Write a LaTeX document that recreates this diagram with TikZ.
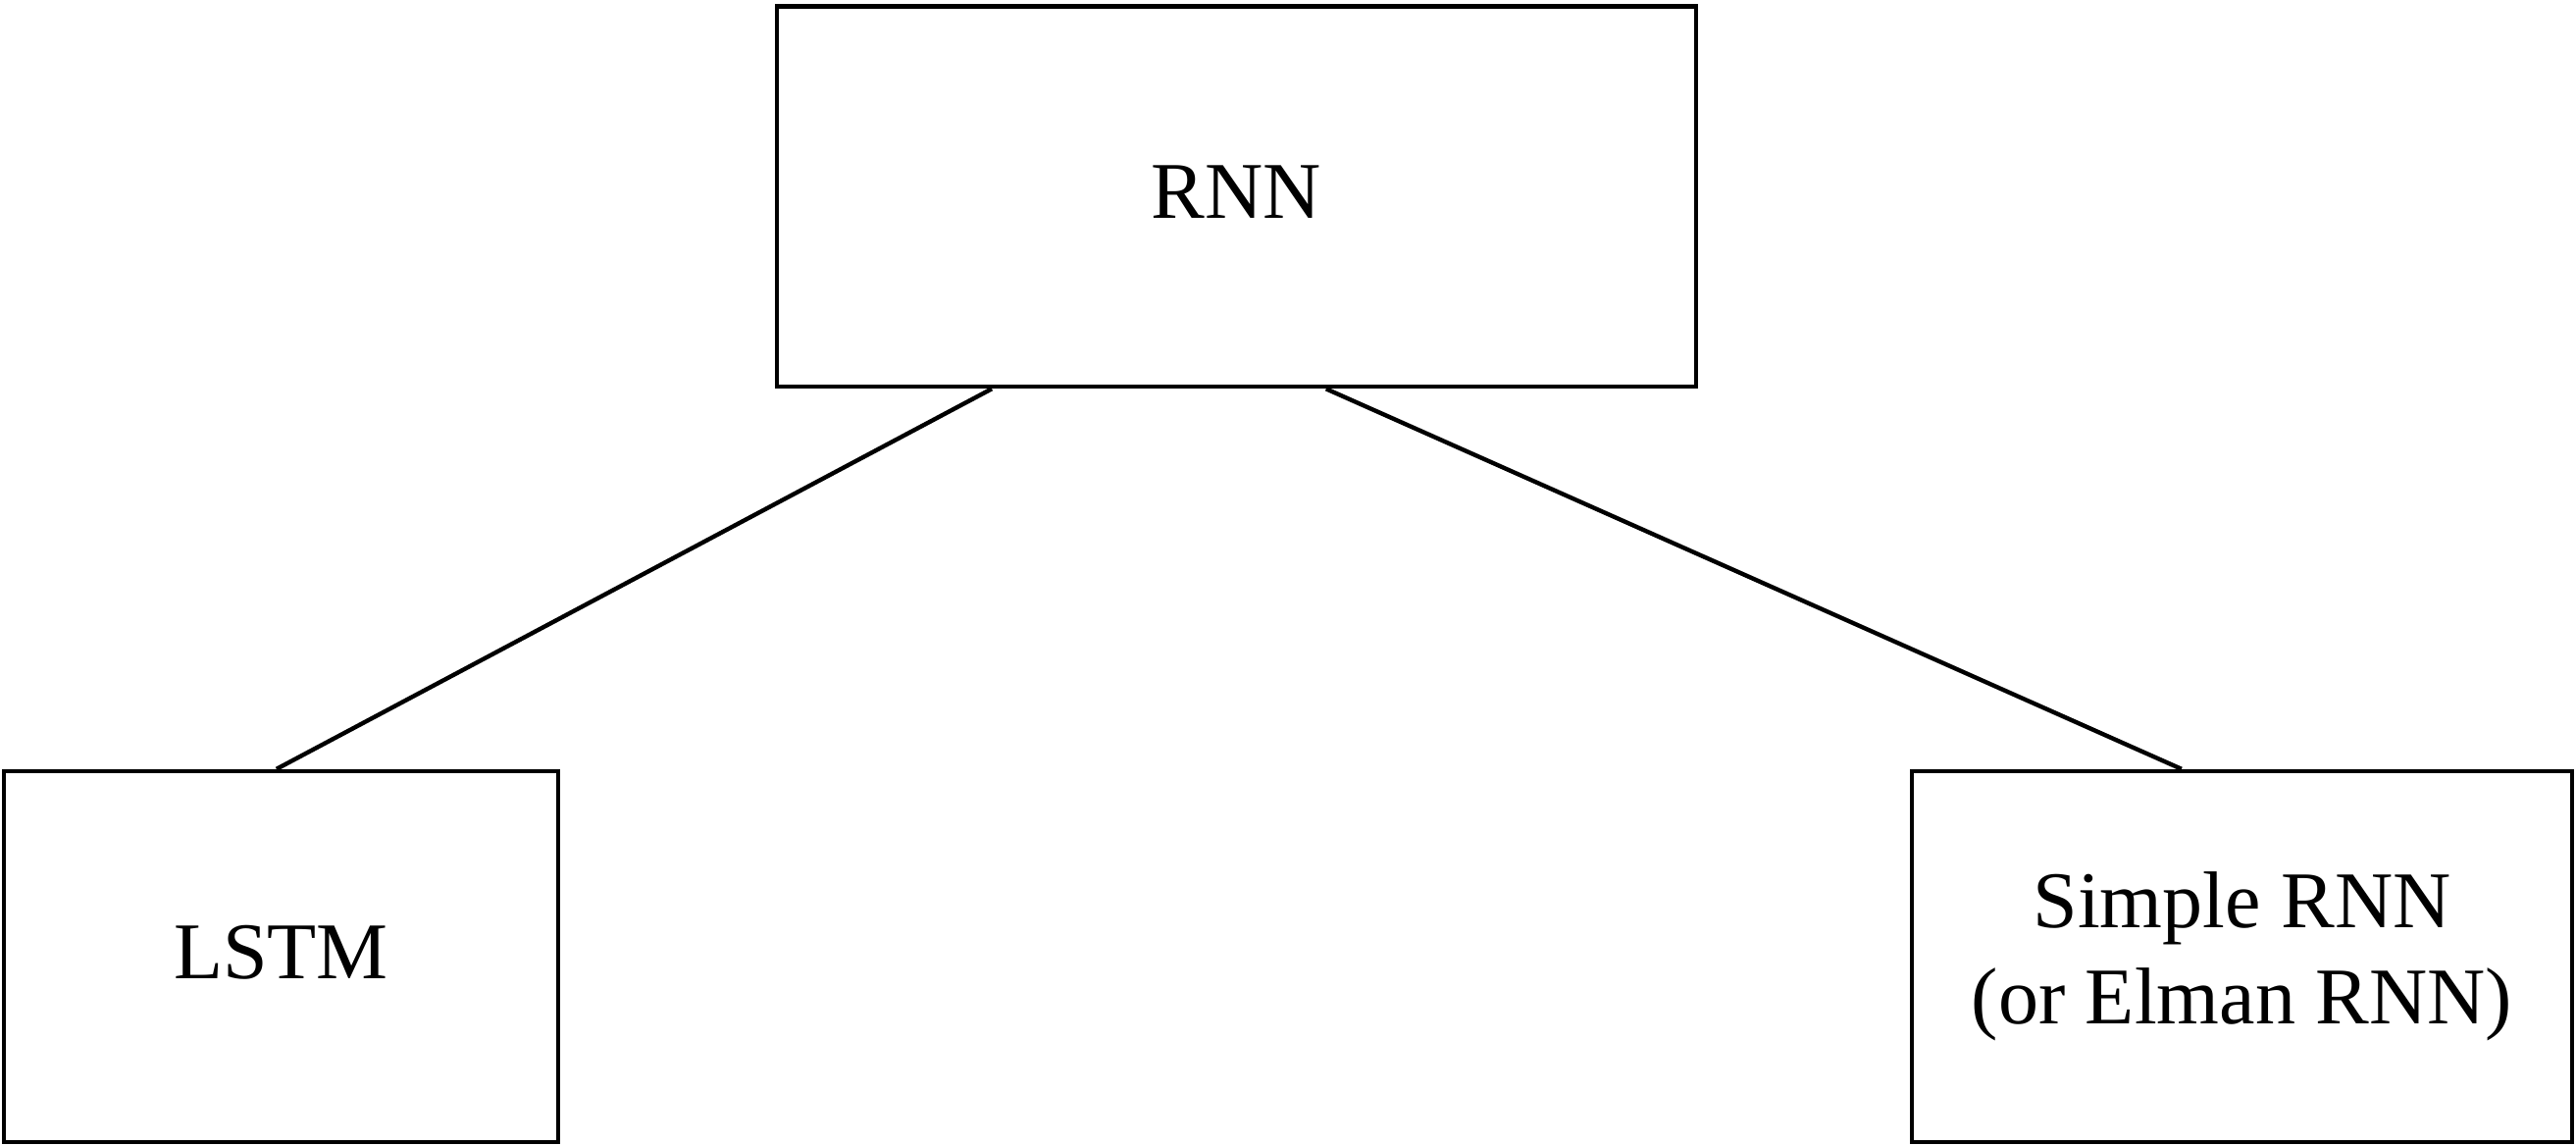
\documentclass[tikz,border=0pt]{standalone}
\usepackage{fontspec}
\setmainfont{Liberation Serif}
\usetikzlibrary{calc}
\begin{document}
\begin{tikzpicture}[x=0.25pt,y=-0.25pt,
  box/.style={draw=black,line width=1.1pt,inner sep=0pt,align=center,
    font=\fontsize{20.5}{24.6}\selectfont},
  link/.style={draw=black,line width=1.1pt}]
\useasboundingbox (0,0) rectangle (2626,1168);
\node[box,text depth=2.5pt,minimum width=234.25pt,minimum height=96.9pt] (rnn) at (1260.5,200.3) {RNN};
\node[box,text depth=2.5pt,minimum width=141.25pt,minimum height=94.5pt] (lstm) at (286.4,975) {LSTM};
\node[box,minimum width=168.25pt,minimum height=94.5pt] (srnn) at (2285.5,975) {Simple RNN\\(or Elman RNN)};
\draw[link] ($(rnn.south west)!0.235!(rnn.south east)$) -- ($(lstm.north west)!0.492!(lstm.north east)$);
\draw[link] ($(rnn.south west)!0.597!(rnn.south east)$) -- ($(srnn.north west)!0.409!(srnn.north east)$);
\end{tikzpicture}
\end{document}
